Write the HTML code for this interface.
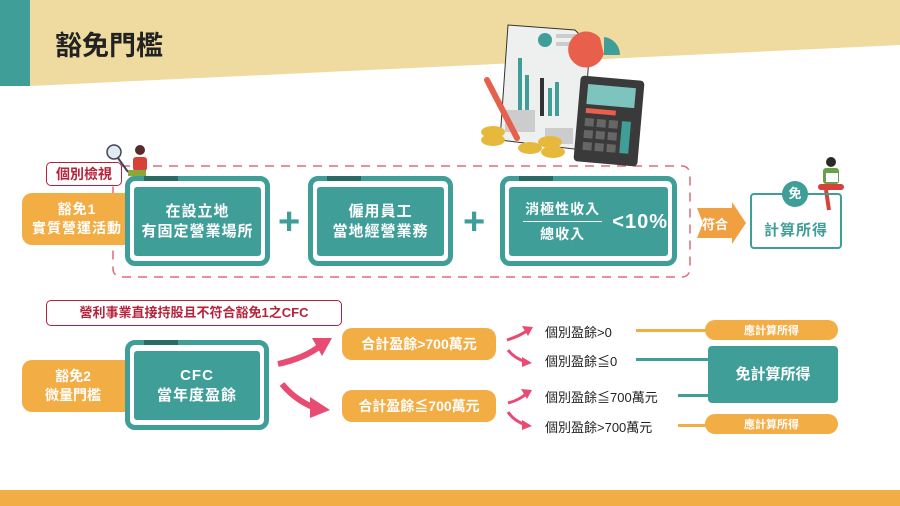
<!DOCTYPE html>
<html><head><meta charset="utf-8"><style>
body{margin:0;width:900px;height:506px;overflow:hidden;background:#fff;font-family:"Liberation Sans","Noto Sans CJK TC",sans-serif;position:relative}
.a{position:absolute}
.box{position:absolute;border:5px solid #3f9e98;border-radius:10px;background:#fff;box-sizing:border-box}
.box .in{position:absolute;left:4px;right:4px;top:6px;bottom:5px;background:#3f9e98;border-radius:3px;color:#fff;font-weight:bold;font-size:15px;display:flex;align-items:center;justify-content:center;text-align:center;line-height:20px;letter-spacing:1px}
.box .tab{position:absolute;left:14px;top:-5px;width:34px;height:5px;background:#2a6b66}
.or{position:absolute;background:#f3ad45;color:#fff;font-weight:bold;display:flex;align-items:center;justify-content:center;text-align:center}
.plus{position:absolute;color:#3f9e98;font-size:38px;font-weight:bold;line-height:38px}
.t{position:absolute;font-size:13px;color:#222;white-space:nowrap}
.ln{position:absolute;height:3px}
</style></head><body>
<svg class="a" style="left:0;top:0" width="900" height="506">
<polygon points="30,0 900,0 900,45 30,86" fill="#efdb9f"/>
<rect x="0" y="0" width="30" height="86" fill="#3f9e98"/>
<rect x="113" y="166" width="577" height="111" rx="8" fill="none" stroke="#e06a78" stroke-width="1.5" stroke-dasharray="9,7"/>
<g>
<polygon points="508,25 575,30 590,45 582,150 500,140" fill="#eef0f0" stroke="#333" stroke-width="1"/>
<circle cx="545" cy="40" r="7" fill="#3f9e98"/>
<rect x="556" y="34" width="22" height="4" fill="#ccc"/><rect x="556" y="42" width="18" height="4" fill="#ccc"/>
<rect x="518" y="58" width="4" height="55" fill="#3f9e98"/>
<rect x="525" y="75" width="4" height="38" fill="#3f9e98"/>
<rect x="540" y="78" width="4" height="38" fill="#333"/>
<rect x="548" y="88" width="4" height="28" fill="#3f9e98"/>
<rect x="555" y="82" width="4" height="34" fill="#3f9e98"/>
<rect x="505" y="110" width="30" height="22" fill="#ccc"/>
<rect x="545" y="128" width="28" height="16" fill="#ccc"/>
<path d="M604,52 A18,18 0 1,1 600,38 L604,55Z" fill="#e8604c"/>
<path d="M604,55 L604,37 A18,18 0 0,1 620,55Z" fill="#3f9e98"/>
<rect x="577" y="78" width="64" height="86" rx="4" fill="#3a3a3a" transform="rotate(5 609 121)"/>
<rect x="585" y="86" width="48" height="20" fill="#7cc4bd" transform="rotate(5 609 121)"/>
<rect x="585" y="110" width="30" height="5" fill="#e8604c" transform="rotate(5 609 121)"/>
<g fill="#666" transform="rotate(5 609 121)"><rect x="585" y="120" width="9" height="8"/><rect x="597" y="120" width="9" height="8"/><rect x="609" y="120" width="9" height="8"/><rect x="585" y="132" width="9" height="8"/><rect x="597" y="132" width="9" height="8"/><rect x="609" y="132" width="9" height="8"/><rect x="585" y="144" width="9" height="8"/><rect x="597" y="144" width="9" height="8"/><rect x="609" y="144" width="9" height="8"/></g>
<rect x="622" y="120" width="9" height="32" fill="#3f9e98" transform="rotate(5 609 121)"/>
<line x1="487" y1="80" x2="517" y2="138" stroke="#e8604c" stroke-width="6" stroke-linecap="round"/>
<ellipse cx="493" cy="132" rx="12" ry="6" fill="#e6b93d"/><ellipse cx="493" cy="140" rx="12" ry="6" fill="#e6b93d"/>
<ellipse cx="530" cy="148" rx="12" ry="6" fill="#e6b93d"/><ellipse cx="550" cy="142" rx="12" ry="6" fill="#e6b93d"/><ellipse cx="553" cy="152" rx="12" ry="6" fill="#e6b93d"/>
</g>
<circle cx="114" cy="152" r="7" fill="#dfeaf3" stroke="#445" stroke-width="1.5"/>
<line x1="118" y1="158" x2="128" y2="172" stroke="#445" stroke-width="2"/>
<circle cx="140" cy="150" r="5" fill="#5a2a2a"/>
<rect x="133" y="157" width="14" height="14" rx="3" fill="#d8403a"/>
<rect x="128" y="170" width="18" height="6" fill="#8aa83a"/>
<line x1="132" y1="176" x2="125" y2="196" stroke="#e9b79b" stroke-width="3"/>
<circle cx="831" cy="162" r="5" fill="#2a2a2a"/>
<rect x="823" y="168" width="16" height="16" rx="3" fill="#6aa04a"/>
<rect x="826" y="173" width="12" height="9" fill="#fff"/>
<rect x="818" y="184" width="26" height="6" rx="3" fill="#d8403a"/>
<line x1="826" y1="190" x2="829" y2="210" stroke="#d8403a" stroke-width="4"/>
<polygon points="697,208 732,208 732,202 746,223 732,244 732,238 697,238 703,223" fill="#f0a040"/>
<path d="M278,364 Q305,358 320,346" stroke="#e84c73" stroke-width="6" fill="none"/><polygon points="312,338 332,338 322,356" fill="#e84c73"/>
<path d="M282,384 Q295,400 315,408" stroke="#e84c73" stroke-width="6" fill="none"/><polygon points="310,397 330,410 310,418" fill="#e84c73"/>
<g stroke="#e84c73" stroke-width="3" fill="none">
<path d="M507,340 Q520,336 528,330"/><path d="M508,350 Q514,358 526,362"/>
<path d="M508,403 Q520,400 527,393"/><path d="M508,412 Q514,421 526,425"/></g>
<g fill="#e84c73"><polygon points="522,326 533,327 528,336"/><polygon points="522,357 532,363 522,367"/><polygon points="521,389 532,390 527,399"/><polygon points="522,420 532,426 522,430"/></g>
</svg>
<div class="a" style="left:55px;top:24px;font-size:27px;font-weight:bold;color:#222">豁免門檻</div>

<div class="a" style="left:46px;top:162px;width:74px;height:22px;border:1.5px solid #b5223a;border-radius:5px;background:#fff;color:#b5223a;font-size:14px;font-weight:bold;text-align:center;line-height:22px">個別檢視</div>
<div class="or" style="left:22px;top:193px;width:110px;height:52px;border-radius:10px 0 0 10px;font-size:14px;line-height:19px;letter-spacing:1px">豁免1<br>實質營運活動</div>
<div class="box" style="left:125px;top:176px;width:145px;height:90px"><div class="tab"></div><div class="in">在設立地<br>有固定營業場所</div></div>
<div class="plus" style="left:278px;top:203px">+</div>
<div class="box" style="left:308px;top:176px;width:145px;height:90px"><div class="tab"></div><div class="in">僱用員工<br>當地經營業務</div></div>
<div class="plus" style="left:463px;top:203px">+</div>
<div class="box" style="left:500px;top:176px;width:177px;height:90px"><div class="tab"></div><div class="in" style="justify-content:flex-start">
<div style="margin-left:14px;width:82px;font-size:14px;line-height:20px"><div style="border-bottom:1.5px solid #fff;padding-bottom:2px">消極性收入</div><div style="padding-top:2px">總收入</div></div>
<div style="margin-left:10px;font-size:20px">&lt;10%</div></div></div>
<div class="a" style="left:702px;top:214px;color:#fff;font-size:13px;font-weight:bold">符合</div>
<div class="a" style="left:750px;top:193px;width:92px;height:56px;border:2px solid #3f9e98;border-radius:4px;box-sizing:border-box;color:#3f9e98;font-size:15px;font-weight:bold;text-align:center;line-height:72px;letter-spacing:1px">計算所得</div>
<div class="a" style="left:782px;top:181px;width:26px;height:26px;border-radius:50%;background:#3f9e98;color:#fff;font-size:13px;font-weight:bold;text-align:center;line-height:26px">免</div>

<div class="a" style="left:46px;top:300px;width:294px;height:24px;border:1.5px solid #b5223a;border-radius:5px;background:#fff;color:#b5223a;font-size:13px;font-weight:bold;text-align:center;line-height:24px">營利事業直接持股且不符合豁免1之CFC</div>
<div class="or" style="left:22px;top:360px;width:110px;height:52px;border-radius:10px 0 0 10px;font-size:14px;line-height:19px;padding-right:8px;box-sizing:border-box">豁免2<br>微量門檻</div>
<div class="box" style="left:125px;top:340px;width:144px;height:90px"><div class="tab"></div><div class="in">CFC<br>當年度盈餘</div></div>
<div class="or" style="left:342px;top:328px;width:154px;height:32px;border-radius:10px;font-size:14px">合計盈餘&gt;700萬元</div>
<div class="or" style="left:342px;top:390px;width:154px;height:32px;border-radius:10px;font-size:14px">合計盈餘≦700萬元</div>
<div class="t" style="left:545px;top:322px">個別盈餘&gt;0</div>
<div class="t" style="left:545px;top:351px">個別盈餘≦0</div>
<div class="t" style="left:545px;top:387px">個別盈餘≦700萬元</div>
<div class="t" style="left:545px;top:417px">個別盈餘&gt;700萬元</div>
<div class="ln" style="left:636px;top:329px;width:70px;background:#f3ad45"></div>
<div class="ln" style="left:636px;top:358px;width:72px;background:#3f9e98"></div>
<div class="ln" style="left:678px;top:394px;width:30px;background:#3f9e98"></div>
<div class="ln" style="left:678px;top:424px;width:28px;background:#f3ad45"></div>
<div class="or" style="left:705px;top:320px;width:133px;height:20px;border-radius:10px;font-size:11px">應計算所得</div>
<div class="or" style="left:705px;top:414px;width:133px;height:20px;border-radius:10px;font-size:11px">應計算所得</div>
<div class="a" style="left:708px;top:346px;width:130px;height:57px;background:#3f9e98;border-radius:4px;color:#fff;font-size:15px;font-weight:bold;text-align:center;line-height:57px">免計算所得</div>
<div class="a" style="left:0;top:490px;width:900px;height:16px;background:#f3ad45"></div>
</body></html>
